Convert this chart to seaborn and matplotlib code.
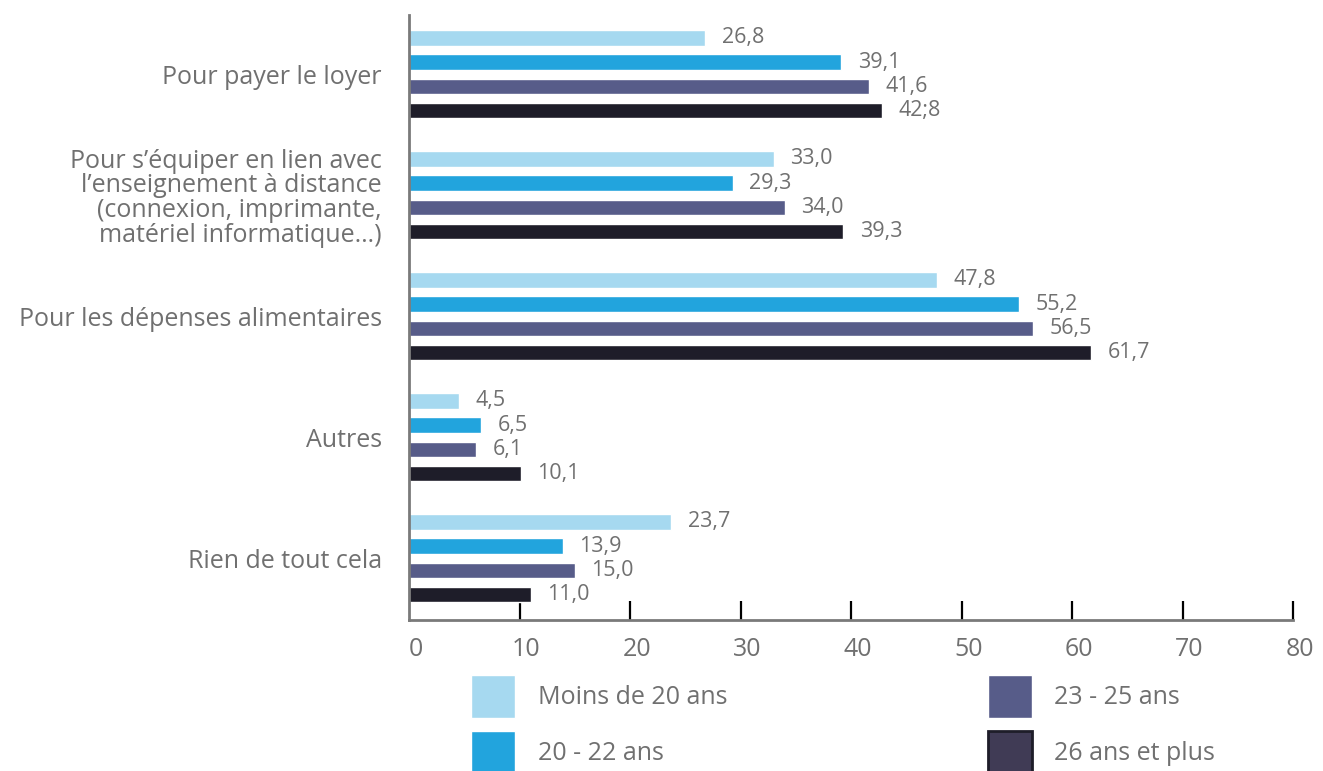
import pandas as pd
import matplotlib
matplotlib.use("Agg")
import matplotlib.pyplot as plt
import matplotlib.transforms as mtransforms
import seaborn as sns
from matplotlib.patches import Patch

# Données
categories = [
    "Pour payer le loyer",
    "Pour s\u2019équiper en lien avec\nl\u2019enseignement à distance\n(connexion, imprimante,\nmatériel informatique\u2026)",
    "Pour les dépenses alimentaires",
    "Autres",
    "Rien de tout cela",
]
groupes = ["Moins de 20 ans", "20 - 22 ans", "23 - 25 ans", "26 ans et plus"]
moins_20 = [26.8, 33.0, 47.8, 4.5, 23.7]
de_20_22 = [39.1, 29.3, 55.2, 6.5, 13.9]
de_23_25 = [41.6, 34.0, 56.5, 6.1, 15.0]
plus_26 = [42.8, 39.3, 61.7, 10.1, 11.0]
# étiquettes telles qu'imprimées (y compris la coquille "42;8")
etiquettes = [
    ["26,8", "33,0", "47,8", "4,5", "23,7"],
    ["39,1", "29,3", "55,2", "6,5", "13,9"],
    ["41,6", "34,0", "56,5", "6,1", "15,0"],
    ["42;8", "39,3", "61,7", "10,1", "11,0"],
]
couleurs = ["#a6d9f0", "#22a4dd", "#575c89", "#1e1d29"]

rows = []
for g, vals in zip(groupes, [moins_20, de_20_22, de_23_25, plus_26]):
    for c, v in zip(categories, vals):
        rows.append({"categorie": c, "groupe": g, "valeur": v})
df = pd.DataFrame(rows)

sns.set_style("white")
plt.rcParams["font.family"] = ["Open Sans", "DejaVu Sans"]
gris = "#707070"

fig = plt.figure(figsize=(13.23, 7.71), dpi=100)
ax = fig.add_axes([409 / 1323, 1 - 620 / 771, (1293 - 409) / 1323, (620 - 15) / 771])

sns.barplot(data=df, y="categorie", x="valeur", hue="groupe", order=categories,
            hue_order=groupes, palette=couleurs, orient="h", width=0.8, gap=0.36,
            saturation=1, legend=False, ax=ax)

for cont, labs in zip(ax.containers, etiquettes):
    ax.bar_label(cont, labels=labs, padding=12, color=gris, fontsize=15.5)

ax.set_xlim(0, 80)
ax.set_ylim(4.51, -0.49)
ax.set_xticks(range(0, 81, 10))
ax.set_xlabel("")
ax.set_ylabel("")

sns.despine(ax=ax)
for s in ["left", "bottom"]:
    ax.spines[s].set_color("#7a7a7a")
    ax.spines[s].set_linewidth(2)

ax.tick_params(axis="x", bottom=True, direction="in", length=14, width=1.6,
               color="black", labelcolor=gris, labelsize=18, pad=12)
ax.xaxis.get_major_ticks()[0].tick1line.set_visible(False)
decal = mtransforms.ScaledTranslation(7 / 100, 0, fig.dpi_scale_trans)
for t in ax.get_xticklabels():
    t.set_transform(t.get_transform() + decal)
ax.tick_params(axis="y", left=False, length=0, labelcolor=gris, labelsize=18, pad=19.5)
for t in ax.get_yticklabels():
    t.set_linespacing(0.98)
    t.set_horizontalalignment("right")

handles = [Patch(facecolor=couleurs[0]), Patch(facecolor=couleurs[1]),
           Patch(facecolor=couleurs[2]),
           Patch(facecolor="#403b55", edgecolor="#1e1d29", linewidth=2)]
fig.legend(handles, groupes, loc="upper left", bbox_to_anchor=(461 / 1323, 1 - 665 / 771),
           borderaxespad=0, ncol=2, frameon=False, fontsize=18, labelcolor=gris,
           handlelength=1.76, handleheight=2.27, handletextpad=0.92,
           columnspacing=10.4, labelspacing=0.5)

fig.savefig("out.png", dpi=100)
